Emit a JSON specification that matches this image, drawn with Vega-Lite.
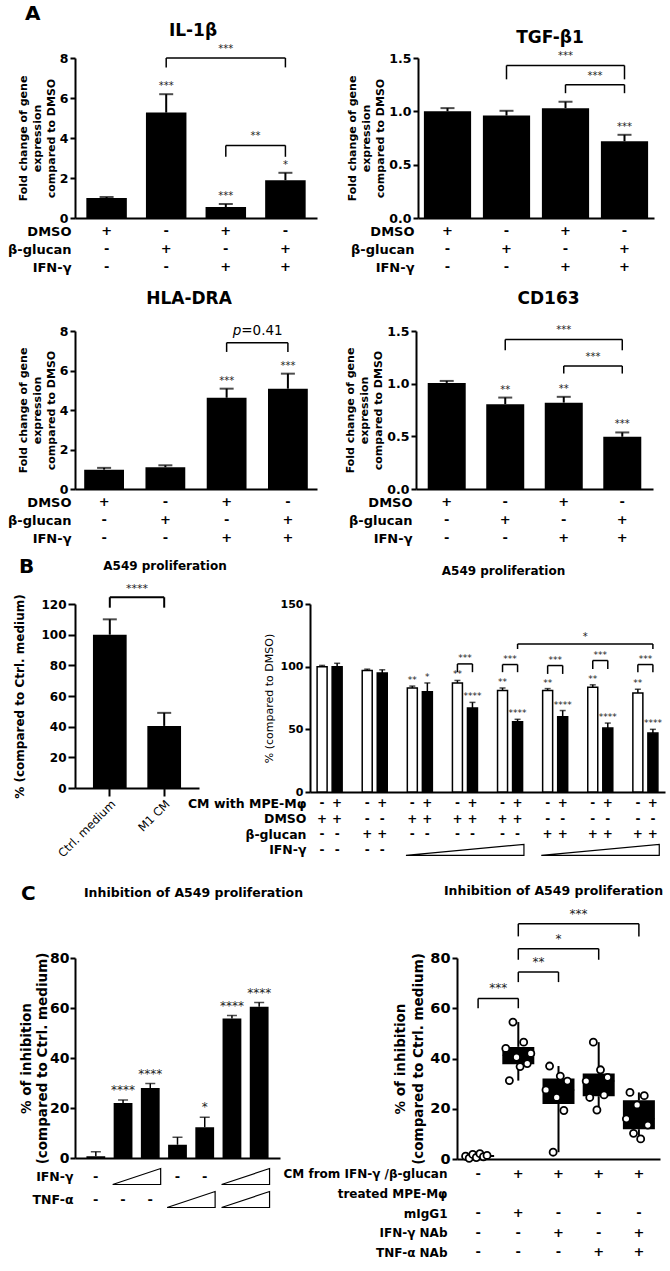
{
"$schema": "https://vega.github.io/schema/vega-lite/v6.json",
"padding": {"left": 7, "top": 4, "right": 2, "bottom": 2},
"background": "white",
"config": {
 "font": "DejaVu Sans",
 "view": {"stroke": null},
 "axis": {"labelFont": "DejaVu Sans", "titleFont": "DejaVu Sans", "labelFontWeight": "bold", "titleFontWeight": "bold", "labelColor": "black", "titleColor": "black", "domainColor": "black", "tickColor": "black", "domainWidth": 2, "tickWidth": 2, "grid": false, "labelOverlap": false},
 "axisY": {"labelOverlap": false},
 "axisQuantitative": {"labelOverlap": false},
 "title": {"font": "DejaVu Sans", "fontWeight": "bold", "color": "black", "anchor": "middle", "frame": "group"},
 "text": {"font": "DejaVu Sans"}
},
"datasets": {
 "il1b": [{"g":"1","mean":1.0,"err":1.05,"sig":""},{"g":"2","mean":5.27,"err":6.19,"sig":"***"},{"g":"3","mean":0.55,"err":0.70,"sig":"***"},{"g":"4","mean":1.89,"err":2.26,"sig":"*"}],
 "il1bBr": [{"a":"2","b":"4","m":"3","half":false,"top":8.0,"leg":7.53,"label":"***"},{"a":"3","b":"4","m":"3","half":true,"top":3.63,"leg":3.06,"label":"**"}],
 "tgf": [{"g":"1","mean":1.0,"err":1.03,"sig":""},{"g":"2","mean":0.96,"err":1.005,"sig":""},{"g":"3","mean":1.03,"err":1.09,"sig":""},{"g":"4","mean":0.72,"err":0.78,"sig":"***"}],
 "tgfBr": [{"a":"2","b":"4","m":"3","half":false,"top":1.43,"leg":1.30,"label":"***"},{"a":"3","b":"4","m":"3","half":true,"top":1.25,"leg":1.17,"label":"***"}],
 "hla": [{"g":"1","mean":0.98,"err":1.07,"sig":""},{"g":"2","mean":1.1,"err":1.2,"sig":""},{"g":"3","mean":4.62,"err":5.08,"sig":"***"},{"g":"4","mean":5.08,"err":5.84,"sig":"***"}],
 "hlaBr": [{"a":"3","b":"4","m":"3","top":7.41,"leg":6.94,"pre":"p","label":"=0.41"}],
 "cd163": [{"g":"1","mean":1.007,"err":1.026,"sig":""},{"g":"2","mean":0.805,"err":0.868,"sig":"**"},{"g":"3","mean":0.82,"err":0.875,"sig":"**"},{"g":"4","mean":0.496,"err":0.537,"sig":"***"}],
 "cd163Br": [{"a":"2","b":"4","m":"3","half":false,"top":1.42,"leg":1.317,"label":"***"},{"a":"3","b":"4","m":"3","half":true,"top":1.168,"leg":1.096,"label":"***"}],
 "tblA": [
  {"row":"DMSO","g":"1","v":"+"},{"row":"DMSO","g":"2","v":"-"},{"row":"DMSO","g":"3","v":"+"},{"row":"DMSO","g":"4","v":"-"},
  {"row":"β-glucan","g":"1","v":"-"},{"row":"β-glucan","g":"2","v":"+"},{"row":"β-glucan","g":"3","v":"-"},{"row":"β-glucan","g":"4","v":"+"},
  {"row":"IFN-γ","g":"1","v":"-"},{"row":"IFN-γ","g":"2","v":"-"},{"row":"IFN-γ","g":"3","v":"+"},{"row":"IFN-γ","g":"4","v":"+"}],
 "bL": [{"g":"Ctrl. medium","mean":100,"err":110},{"g":"M1 CM","mean":40.5,"err":49}],
 "bLBr": [{"a":"Ctrl. medium","b":"M1 CM","m":"Ctrl. medium","top":124.4,"leg":117.6,"label":"****"}],
 "bR": [
  {"bar":"1-","cm":"-","mean":100,"err":101,"sig":""},{"bar":"1+","cm":"+","mean":100,"err":102.7,"sig":""},
  {"bar":"2-","cm":"-","mean":97,"err":98,"sig":""},{"bar":"2+","cm":"+","mean":95,"err":97.5,"sig":""},
  {"bar":"3-","cm":"-","mean":83,"err":84.5,"sig":"**"},{"bar":"3+","cm":"+","mean":80,"err":87,"sig":"*"},
  {"bar":"4-","cm":"-","mean":87,"err":89,"sig":"**"},{"bar":"4+","cm":"+","mean":67,"err":71.5,"sig":"****"},
  {"bar":"5-","cm":"-","mean":81,"err":83,"sig":"**"},{"bar":"5+","cm":"+","mean":56,"err":58,"sig":"****"},
  {"bar":"6-","cm":"-","mean":81,"err":82.5,"sig":"**"},{"bar":"6+","cm":"+","mean":60,"err":65,"sig":"****"},
  {"bar":"7-","cm":"-","mean":83.5,"err":85.5,"sig":"**"},{"bar":"7+","cm":"+","mean":51,"err":55,"sig":"****"},
  {"bar":"8-","cm":"-","mean":79,"err":82,"sig":"**"},{"bar":"8+","cm":"+","mean":47,"err":50,"sig":"****"}],
 "bRpair": [{"a":"4-","b":"4+","top":102.2,"leg":95.6,"label":"***"},{"a":"5-","b":"5+","top":101.7,"leg":95.6,"label":"***"},{"a":"6-","b":"6+","top":100.9,"leg":94.2,"label":"***"},{"a":"7-","b":"7+","top":104.9,"leg":98.2,"label":"***"},{"a":"8-","b":"8+","top":101.7,"leg":95.6,"label":"***"}],
 "bRlong": [{"a":"5+","b":"8+","m":"s6","top":118.1,"leg":114.1,"label":"*"}],
 "tblB": [
  {"row":"CM with MPE-Mφ","bar":"1-","v":"-"},{"row":"CM with MPE-Mφ","bar":"1+","v":"+"},
  {"row":"CM with MPE-Mφ","bar":"2-","v":"-"},{"row":"CM with MPE-Mφ","bar":"2+","v":"+"},
  {"row":"CM with MPE-Mφ","bar":"3-","v":"-"},{"row":"CM with MPE-Mφ","bar":"3+","v":"+"},
  {"row":"CM with MPE-Mφ","bar":"4-","v":"-"},{"row":"CM with MPE-Mφ","bar":"4+","v":"+"},
  {"row":"CM with MPE-Mφ","bar":"5-","v":"-"},{"row":"CM with MPE-Mφ","bar":"5+","v":"+"},
  {"row":"CM with MPE-Mφ","bar":"6-","v":"-"},{"row":"CM with MPE-Mφ","bar":"6+","v":"+"},
  {"row":"CM with MPE-Mφ","bar":"7-","v":"-"},{"row":"CM with MPE-Mφ","bar":"7+","v":"+"},
  {"row":"CM with MPE-Mφ","bar":"8-","v":"-"},{"row":"CM with MPE-Mφ","bar":"8+","v":"+"},
  {"row":"DMSO","bar":"1-","v":"+"},{"row":"DMSO","bar":"1+","v":"+"},
  {"row":"DMSO","bar":"2-","v":"-"},{"row":"DMSO","bar":"2+","v":"-"},
  {"row":"DMSO","bar":"3-","v":"+"},{"row":"DMSO","bar":"3+","v":"+"},
  {"row":"DMSO","bar":"4-","v":"+"},{"row":"DMSO","bar":"4+","v":"+"},
  {"row":"DMSO","bar":"5-","v":"+"},{"row":"DMSO","bar":"5+","v":"+"},
  {"row":"DMSO","bar":"6-","v":"-"},{"row":"DMSO","bar":"6+","v":"-"},
  {"row":"DMSO","bar":"7-","v":"-"},{"row":"DMSO","bar":"7+","v":"-"},
  {"row":"DMSO","bar":"8-","v":"-"},{"row":"DMSO","bar":"8+","v":"-"},
  {"row":"β-glucan","bar":"1-","v":"-"},{"row":"β-glucan","bar":"1+","v":"-"},
  {"row":"β-glucan","bar":"2-","v":"+"},{"row":"β-glucan","bar":"2+","v":"+"},
  {"row":"β-glucan","bar":"3-","v":"-"},{"row":"β-glucan","bar":"3+","v":"-"},
  {"row":"β-glucan","bar":"4-","v":"-"},{"row":"β-glucan","bar":"4+","v":"-"},
  {"row":"β-glucan","bar":"5-","v":"-"},{"row":"β-glucan","bar":"5+","v":"-"},
  {"row":"β-glucan","bar":"6-","v":"+"},{"row":"β-glucan","bar":"6+","v":"+"},
  {"row":"β-glucan","bar":"7-","v":"+"},{"row":"β-glucan","bar":"7+","v":"+"},
  {"row":"β-glucan","bar":"8-","v":"+"},{"row":"β-glucan","bar":"8+","v":"+"},
  {"row":"IFN-γ","bar":"1-","v":"-"},{"row":"IFN-γ","bar":"1+","v":"-"},
  {"row":"IFN-γ","bar":"2-","v":"-"},{"row":"IFN-γ","bar":"2+","v":"-"}],
 "bTri": [{"m":"4-","row":"IFN-γ"},{"m":"7-","row":"IFN-γ"}],
 "cL": [{"g":"1","mean":0.7,"err":2.5,"sig":""},{"g":"2","mean":22,"err":23.2,"sig":"****"},{"g":"3","mean":28,"err":29.8,"sig":"****"},{"g":"4","mean":5.3,"err":8.3,"sig":""},{"g":"5","mean":12.3,"err":16.3,"sig":"*"},{"g":"6","mean":55.8,"err":57.0,"sig":"****"},{"g":"7","mean":60.5,"err":62.2,"sig":"****"}],
 "tblCL": [{"row":"IFN-γ","g":"1","v":"-"},{"row":"IFN-γ","g":"4","v":"-"},{"row":"IFN-γ","g":"5","v":"-"},{"row":"TNF-α","g":"1","v":"-"},{"row":"TNF-α","g":"2","v":"-"},{"row":"TNF-α","g":"3","v":"-"}],
 "cLTri": [{"g":"2","row":"IFN-γ"},{"g":"6","row":"IFN-γ"},{"g":"4","row":"TNF-α"},{"g":"6","row":"TNF-α"}],
 "cR": [
  {"box":"1","rep":"1","v":1.1},{"box":"1","rep":"2","v":0.3},{"box":"1","rep":"3","v":1.8},{"box":"1","rep":"4","v":0.6},{"box":"1","rep":"5","v":2.1},{"box":"1","rep":"6","v":0.9},{"box":"1","rep":"7","v":1.4},
  {"box":"2","rep":"1","v":44.0},{"box":"2","rep":"2","v":31.2},{"box":"2","rep":"3","v":54.5},{"box":"2","rep":"4","v":40.5},{"box":"2","rep":"5","v":36.8},{"box":"2","rep":"6","v":46.5},{"box":"2","rep":"7","v":38.0},{"box":"2","rep":"8","v":42.0},
  {"box":"3","rep":"1","v":27.5},{"box":"3","rep":"2","v":37.0},{"box":"3","rep":"3","v":2.7},{"box":"3","rep":"4","v":24.5},{"box":"3","rep":"5","v":33.0},{"box":"3","rep":"6","v":19.3},{"box":"3","rep":"7","v":31.0},
  {"box":"4","rep":"1","v":31.0},{"box":"4","rep":"2","v":24.5},{"box":"4","rep":"3","v":46.5},{"box":"4","rep":"4","v":19.5},{"box":"4","rep":"5","v":35.5},{"box":"4","rep":"6","v":25.5},{"box":"4","rep":"7","v":32.5},
  {"box":"5","rep":"1","v":16.0},{"box":"5","rep":"2","v":26.5},{"box":"5","rep":"3","v":10.2},{"box":"5","rep":"4","v":21.5},{"box":"5","rep":"5","v":8.0},{"box":"5","rep":"6","v":25.2},{"box":"5","rep":"7","v":13.5}],
 "cRBr": [{"a":"1","b":"2","m":"1","half":true,"top":63.9,"leg":60,"label":"***"},{"a":"2","b":"3","m":"2","half":true,"top":74.4,"leg":70.4,"label":"**"},{"a":"2","b":"4","m":"3","half":false,"top":83.7,"leg":79.3,"label":"*"},{"a":"2","b":"5","m":"3","half":true,"top":93.6,"leg":88.6,"label":"***"}],
 "tblCR": [
  {"row":"CM from IFN-γ /β-glucan","box":"1","v":"-"},{"row":"CM from IFN-γ /β-glucan","box":"2","v":"+"},{"row":"CM from IFN-γ /β-glucan","box":"3","v":"+"},{"row":"CM from IFN-γ /β-glucan","box":"4","v":"+"},{"row":"CM from IFN-γ /β-glucan","box":"5","v":"+"},
  {"row":"mIgG1","box":"1","v":"-"},{"row":"mIgG1","box":"2","v":"+"},{"row":"mIgG1","box":"3","v":"-"},{"row":"mIgG1","box":"4","v":"-"},{"row":"mIgG1","box":"5","v":"-"},
  {"row":"IFN-γ NAb","box":"1","v":"-"},{"row":"IFN-γ NAb","box":"2","v":"-"},{"row":"IFN-γ NAb","box":"3","v":"+"},{"row":"IFN-γ NAb","box":"4","v":"-"},{"row":"IFN-γ NAb","box":"5","v":"+"},
  {"row":"TNF-α NAb","box":"1","v":"-"},{"row":"TNF-α NAb","box":"2","v":"-"},{"row":"TNF-α NAb","box":"3","v":"-"},{"row":"TNF-α NAb","box":"4","v":"+"},{"row":"TNF-α NAb","box":"5","v":"+"}]
},
"vconcat": [
 {"vconcat": [
 {"vconcat": [
 {"title": {"text": "A", "anchor": "start", "fontSize": 20, "dx": -50, "dy": 2, "offset": 0},
  "hconcat": [
   {"vconcat": [
     {"title": {"text": "IL-1β", "fontSize": 17, "dx": -3, "offset": 4},
      "width": 242, "height": 160,
      "layer": [
       {"data": {"name": "il1b"}, "mark": {"type": "bar", "color": "black", "width": 40.5},
        "encoding": {"x": {"field": "g", "type": "nominal", "scale": {"type": "band", "paddingInner": 0.32, "paddingOuter": 0.19}, "axis": {"labels": false, "ticks": false, "title": null}},
         "y": {"field": "mean", "type": "quantitative", "scale": {"domain": [0, 8], "nice": false}, "axis": {"values": [0, 2, 4, 6, 8], "tickCount": 10, "labelOverlap": false, "format": "d", "title": ["Fold change of gene", "expression", "compared to DMSO"], "titleFontSize": 11, "titleLineHeight": 14, "titlePadding": 3, "labelFontSize": 12.5, "labelPadding": 2, "tickSize": 5}}}},
       {"data": {"name": "il1b"}, "mark": {"type": "rule", "color": "black", "strokeWidth": 2},
        "encoding": {"x": {"field": "g", "type": "nominal"}, "y": {"field": "mean", "type": "quantitative"}, "y2": {"field": "err"}}},
       {"data": {"name": "il1b"}, "mark": {"type": "tick", "color": "black", "thickness": 2, "size": 14, "orient": "horizontal"},
        "encoding": {"x": {"field": "g", "type": "nominal"}, "y": {"field": "err", "type": "quantitative"}}},
       {"data": {"name": "il1b"}, "mark": {"type": "text", "baseline": "bottom", "dy": -3, "fontSize": 10, "color": "#222"},
        "encoding": {"x": {"field": "g", "type": "nominal"}, "y": {"field": "err", "type": "quantitative"}, "text": {"field": "sig"}}},
       {"data": {"name": "il1bBr"}, "mark": {"type": "rule", "color": "black", "strokeWidth": 1.5},
        "encoding": {"x": {"field": "a", "type": "nominal", "bandPosition": 0.5}, "x2": {"field": "b", "bandPosition": 0.5}, "y": {"field": "top", "type": "quantitative"}}},
       {"data": {"name": "il1bBr"}, "mark": {"type": "rule", "color": "black", "strokeWidth": 1.5},
        "encoding": {"x": {"field": "a", "type": "nominal"}, "y": {"field": "top", "type": "quantitative"}, "y2": {"field": "leg"}}},
       {"data": {"name": "il1bBr"}, "mark": {"type": "rule", "color": "black", "strokeWidth": 1.5},
        "encoding": {"x": {"field": "b", "type": "nominal"}, "y": {"field": "top", "type": "quantitative"}, "y2": {"field": "leg"}}},
       {"data": {"name": "il1bBr"}, "transform": [{"filter": "!datum.half"}], "mark": {"type": "text", "baseline": "bottom", "dy": -4, "fontSize": 10, "color": "#222"},
        "encoding": {"x": {"field": "m", "type": "nominal"}, "y": {"field": "top", "type": "quantitative"}, "text": {"field": "label"}}},
       {"data": {"name": "il1bBr"}, "transform": [{"filter": "datum.half"}], "mark": {"type": "text", "baseline": "bottom", "dy": -4, "fontSize": 10, "color": "#222"},
        "encoding": {"x": {"field": "m", "type": "nominal", "bandPosition": 1.235}, "y": {"field": "top", "type": "quantitative"}, "text": {"field": "label"}}}
      ]},
     {"width": 242, "height": 36, "data": {"name": "tblA"}, "mark": {"type": "text", "fontSize": 13, "fontWeight": "bold", "color": "black"},
      "encoding": {"x": {"field": "g", "type": "nominal", "scale": {"type": "band", "paddingInner": 0.32, "paddingOuter": 0.19}, "axis": null},
       "y": {"field": "row", "type": "nominal", "scale": {"domain": ["DMSO", "β-glucan", "IFN-γ"], "padding": 0}, "axis": {"title": null, "domain": false, "ticks": false, "labelFontSize": 13, "labelPadding": 4}},
       "text": {"field": "v"}}}
    ], "spacing": 0, "resolve": {"scale": {"x": "shared"}, "axis": {"x": "independent"}}},
   {"vconcat": [
     {"title": {"text": "TGF-β1", "fontSize": 17, "dx": 14, "offset": 4},
      "width": 236, "height": 160,
      "layer": [
       {"data": {"name": "tgf"}, "mark": {"type": "bar", "color": "black", "width": 47.2},
        "encoding": {"x": {"field": "g", "type": "nominal", "scale": {"type": "band", "paddingInner": 0.2, "paddingOuter": 0.1}, "axis": {"labels": false, "ticks": false, "title": null}},
         "y": {"field": "mean", "type": "quantitative", "scale": {"domain": [0, 1.5], "nice": false}, "axis": {"values": [0, 0.5, 1, 1.5], "labelOverlap": false, "format": ".1f", "title": ["Fold change of gene", "expression", "compared to DMSO"], "titleFontSize": 11, "titleLineHeight": 14, "titlePadding": 3, "labelFontSize": 12.5, "labelPadding": 2, "tickSize": 5}}}},
       {"data": {"name": "tgf"}, "mark": {"type": "rule", "color": "black", "strokeWidth": 2},
        "encoding": {"x": {"field": "g", "type": "nominal"}, "y": {"field": "mean", "type": "quantitative"}, "y2": {"field": "err"}}},
       {"data": {"name": "tgf"}, "mark": {"type": "tick", "color": "black", "thickness": 2, "size": 14, "orient": "horizontal"},
        "encoding": {"x": {"field": "g", "type": "nominal"}, "y": {"field": "err", "type": "quantitative"}}},
       {"data": {"name": "tgf"}, "mark": {"type": "text", "baseline": "bottom", "dy": -3, "fontSize": 10, "color": "#222"},
        "encoding": {"x": {"field": "g", "type": "nominal"}, "y": {"field": "err", "type": "quantitative"}, "text": {"field": "sig"}}},
       {"data": {"name": "tgfBr"}, "mark": {"type": "rule", "color": "black", "strokeWidth": 1.5},
        "encoding": {"x": {"field": "a", "type": "nominal", "bandPosition": 0.5}, "x2": {"field": "b", "bandPosition": 0.5}, "y": {"field": "top", "type": "quantitative"}}},
       {"data": {"name": "tgfBr"}, "mark": {"type": "rule", "color": "black", "strokeWidth": 1.5},
        "encoding": {"x": {"field": "a", "type": "nominal"}, "y": {"field": "top", "type": "quantitative"}, "y2": {"field": "leg"}}},
       {"data": {"name": "tgfBr"}, "mark": {"type": "rule", "color": "black", "strokeWidth": 1.5},
        "encoding": {"x": {"field": "b", "type": "nominal"}, "y": {"field": "top", "type": "quantitative"}, "y2": {"field": "leg"}}},
       {"data": {"name": "tgfBr"}, "transform": [{"filter": "!datum.half"}], "mark": {"type": "text", "baseline": "bottom", "dy": -4, "fontSize": 10, "color": "#222"},
        "encoding": {"x": {"field": "m", "type": "nominal"}, "y": {"field": "top", "type": "quantitative"}, "text": {"field": "label"}}},
       {"data": {"name": "tgfBr"}, "transform": [{"filter": "datum.half"}], "mark": {"type": "text", "baseline": "bottom", "dy": -4, "fontSize": 10, "color": "#222"},
        "encoding": {"x": {"field": "m", "type": "nominal", "bandPosition": 1.125}, "y": {"field": "top", "type": "quantitative"}, "text": {"field": "label"}}}
      ]},
     {"width": 236, "height": 36, "data": {"name": "tblA"}, "mark": {"type": "text", "fontSize": 13, "fontWeight": "bold", "color": "black"},
      "encoding": {"x": {"field": "g", "type": "nominal", "scale": {"type": "band", "paddingInner": 0.2, "paddingOuter": 0.1}, "axis": null},
       "y": {"field": "row", "type": "nominal", "scale": {"domain": ["DMSO", "β-glucan", "IFN-γ"], "padding": 0}, "axis": {"title": null, "domain": false, "ticks": false, "labelFontSize": 13, "labelPadding": 4}},
       "text": {"field": "v"}}}
    ], "spacing": 0, "resolve": {"scale": {"x": "shared"}, "axis": {"x": "independent"}}}
  ], "spacing": 29},
 {"hconcat": [
   {"vconcat": [
     {"title": {"text": "HLA-DRA", "fontSize": 17, "dx": -7, "offset": 16},
      "width": 242, "height": 158,
      "layer": [
       {"data": {"name": "hla"}, "mark": {"type": "bar", "color": "black", "width": 39.8},
        "encoding": {"x": {"field": "g", "type": "nominal", "scale": {"type": "band", "paddingInner": 0.35, "paddingOuter": 0.15}, "axis": {"labels": false, "ticks": false, "title": null}},
         "y": {"field": "mean", "type": "quantitative", "scale": {"domain": [0, 8], "nice": false}, "axis": {"values": [0, 2, 4, 6, 8], "tickCount": 10, "labelOverlap": false, "format": "d", "title": ["Fold change of gene", "expression", "compared to DMSO"], "titleFontSize": 11, "titleLineHeight": 14, "titlePadding": 3, "labelFontSize": 12.5, "labelPadding": 2, "tickSize": 5}}}},
       {"data": {"name": "hla"}, "mark": {"type": "rule", "color": "black", "strokeWidth": 2},
        "encoding": {"x": {"field": "g", "type": "nominal"}, "y": {"field": "mean", "type": "quantitative"}, "y2": {"field": "err"}}},
       {"data": {"name": "hla"}, "mark": {"type": "tick", "color": "black", "thickness": 2, "size": 14, "orient": "horizontal"},
        "encoding": {"x": {"field": "g", "type": "nominal"}, "y": {"field": "err", "type": "quantitative"}}},
       {"data": {"name": "hla"}, "mark": {"type": "text", "baseline": "bottom", "dy": -3, "fontSize": 10, "color": "#222"},
        "encoding": {"x": {"field": "g", "type": "nominal"}, "y": {"field": "err", "type": "quantitative"}, "text": {"field": "sig"}}},
       {"data": {"name": "hlaBr"}, "mark": {"type": "rule", "color": "black", "strokeWidth": 1.5},
        "encoding": {"x": {"field": "a", "type": "nominal", "bandPosition": 0.5}, "x2": {"field": "b", "bandPosition": 0.5}, "y": {"field": "top", "type": "quantitative"}}},
       {"data": {"name": "hlaBr"}, "mark": {"type": "rule", "color": "black", "strokeWidth": 1.5},
        "encoding": {"x": {"field": "a", "type": "nominal"}, "y": {"field": "top", "type": "quantitative"}, "y2": {"field": "leg"}}},
       {"data": {"name": "hlaBr"}, "mark": {"type": "rule", "color": "black", "strokeWidth": 1.5},
        "encoding": {"x": {"field": "b", "type": "nominal"}, "y": {"field": "top", "type": "quantitative"}, "y2": {"field": "leg"}}},
       {"data": {"name": "hlaBr"}, "mark": {"type": "text", "baseline": "bottom", "dy": -5, "dx": -16, "align": "right", "fontSize": 13.5, "fontStyle": "italic", "color": "black"},
        "encoding": {"x": {"field": "m", "type": "nominal", "bandPosition": 1.269}, "y": {"field": "top", "type": "quantitative"}, "text": {"field": "pre"}}},
       {"data": {"name": "hlaBr"}, "mark": {"type": "text", "baseline": "bottom", "dy": -5, "dx": -16, "align": "left", "fontSize": 13.5, "color": "black"},
        "encoding": {"x": {"field": "m", "type": "nominal", "bandPosition": 1.269}, "y": {"field": "top", "type": "quantitative"}, "text": {"field": "label"}}}
      ]},
     {"width": 242, "height": 36, "data": {"name": "tblA"}, "mark": {"type": "text", "fontSize": 13, "fontWeight": "bold", "color": "black"},
      "encoding": {"x": {"field": "g", "type": "nominal", "scale": {"type": "band", "paddingInner": 0.35, "paddingOuter": 0.15}, "axis": null},
       "y": {"field": "row", "type": "nominal", "scale": {"domain": ["DMSO", "β-glucan", "IFN-γ"], "padding": 0}, "axis": {"title": null, "domain": false, "ticks": false, "labelFontSize": 13, "labelPadding": 4}},
       "text": {"field": "v"}}}
    ], "spacing": 0, "resolve": {"scale": {"x": "shared"}, "axis": {"x": "independent"}}},
   {"vconcat": [
     {"title": {"text": "CD163", "fontSize": 17, "dx": 14, "offset": 17},
      "width": 237, "height": 158,
      "layer": [
       {"data": {"name": "cd163"}, "mark": {"type": "bar", "color": "black", "width": 38},
        "encoding": {"x": {"field": "g", "type": "nominal", "scale": {"type": "band", "paddingInner": 0.35, "paddingOuter": 0.2}, "axis": {"labels": false, "ticks": false, "title": null}},
         "y": {"field": "mean", "type": "quantitative", "scale": {"domain": [0, 1.5], "nice": false}, "axis": {"values": [0, 0.5, 1, 1.5], "labelOverlap": false, "format": ".1f", "title": ["Fold change of gene", "expression", "compared to DMSO"], "titleFontSize": 11, "titleLineHeight": 14, "titlePadding": 3, "labelFontSize": 12.5, "labelPadding": 2, "tickSize": 5}}}},
       {"data": {"name": "cd163"}, "mark": {"type": "rule", "color": "black", "strokeWidth": 2},
        "encoding": {"x": {"field": "g", "type": "nominal"}, "y": {"field": "mean", "type": "quantitative"}, "y2": {"field": "err"}}},
       {"data": {"name": "cd163"}, "mark": {"type": "tick", "color": "black", "thickness": 2, "size": 14, "orient": "horizontal"},
        "encoding": {"x": {"field": "g", "type": "nominal"}, "y": {"field": "err", "type": "quantitative"}}},
       {"data": {"name": "cd163"}, "mark": {"type": "text", "baseline": "bottom", "dy": -3, "fontSize": 10, "color": "#222"},
        "encoding": {"x": {"field": "g", "type": "nominal"}, "y": {"field": "err", "type": "quantitative"}, "text": {"field": "sig"}}},
       {"data": {"name": "cd163Br"}, "mark": {"type": "rule", "color": "black", "strokeWidth": 1.5},
        "encoding": {"x": {"field": "a", "type": "nominal", "bandPosition": 0.5}, "x2": {"field": "b", "bandPosition": 0.5}, "y": {"field": "top", "type": "quantitative"}}},
       {"data": {"name": "cd163Br"}, "mark": {"type": "rule", "color": "black", "strokeWidth": 1.5},
        "encoding": {"x": {"field": "a", "type": "nominal"}, "y": {"field": "top", "type": "quantitative"}, "y2": {"field": "leg"}}},
       {"data": {"name": "cd163Br"}, "mark": {"type": "rule", "color": "black", "strokeWidth": 1.5},
        "encoding": {"x": {"field": "b", "type": "nominal"}, "y": {"field": "top", "type": "quantitative"}, "y2": {"field": "leg"}}},
       {"data": {"name": "cd163Br"}, "transform": [{"filter": "!datum.half"}], "mark": {"type": "text", "baseline": "bottom", "dy": -4, "fontSize": 10, "color": "#222"},
        "encoding": {"x": {"field": "m", "type": "nominal"}, "y": {"field": "top", "type": "quantitative"}, "text": {"field": "label"}}},
       {"data": {"name": "cd163Br"}, "transform": [{"filter": "datum.half"}], "mark": {"type": "text", "baseline": "bottom", "dy": -4, "fontSize": 10, "color": "#222"},
        "encoding": {"x": {"field": "m", "type": "nominal", "bandPosition": 1.269}, "y": {"field": "top", "type": "quantitative"}, "text": {"field": "label"}}}
      ]},
     {"width": 237, "height": 36, "data": {"name": "tblA"}, "mark": {"type": "text", "fontSize": 13, "fontWeight": "bold", "color": "black"},
      "encoding": {"x": {"field": "g", "type": "nominal", "scale": {"type": "band", "paddingInner": 0.35, "paddingOuter": 0.2}, "axis": null},
       "y": {"field": "row", "type": "nominal", "scale": {"domain": ["DMSO", "β-glucan", "IFN-γ"], "padding": 0}, "axis": {"title": null, "domain": false, "ticks": false, "labelFontSize": 13, "labelPadding": 4}},
       "text": {"field": "v"}}}
    ], "spacing": 0, "resolve": {"scale": {"x": "shared"}, "axis": {"x": "independent"}}}
  ], "spacing": 27}
 ], "spacing": 15},
 {"title": {"text": "B", "anchor": "start", "fontSize": 20, "dx": -56, "dy": 21},
  "bounds": "flush",
  "hconcat": [
   {"title": {"text": "A549 proliferation", "fontSize": 12, "dx": 28, "offset": 10},
    "width": 124, "height": 184,
    "layer": [
     {"data": {"name": "bL"}, "mark": {"type": "bar", "color": "black", "width": 33.7},
      "encoding": {"x": {"field": "g", "type": "nominal", "scale": {"type": "band", "paddingInner": 0.38, "paddingOuter": 0.33}, "axis": {"title": null, "labelAngle": -45, "labelFontSize": 11.5, "labelFontWeight": "normal", "tickSize": 8, "labelPadding": 2}},
       "y": {"field": "mean", "type": "quantitative", "scale": {"domain": [0, 120], "nice": false}, "axis": {"values": [0, 20, 40, 60, 80, 100, 120], "tickCount": 10, "labelOverlap": false, "format": "d", "title": "% (compared to Ctrl. medium)", "titleFontSize": 12, "titlePadding": 14, "labelFontSize": 12, "labelPadding": 2, "tickSize": 7}}}},
     {"data": {"name": "bL"}, "mark": {"type": "rule", "color": "black", "strokeWidth": 2},
      "encoding": {"x": {"field": "g", "type": "nominal"}, "y": {"field": "mean", "type": "quantitative"}, "y2": {"field": "err"}}},
     {"data": {"name": "bL"}, "mark": {"type": "tick", "color": "black", "thickness": 2, "size": 14, "orient": "horizontal"},
      "encoding": {"x": {"field": "g", "type": "nominal"}, "y": {"field": "err", "type": "quantitative"}}},
     {"data": {"name": "bLBr"}, "mark": {"type": "rule", "color": "black", "strokeWidth": 2},
      "encoding": {"x": {"field": "a", "type": "nominal", "bandPosition": 0.5}, "x2": {"field": "b", "bandPosition": 0.5}, "y": {"field": "top", "type": "quantitative"}}},
     {"data": {"name": "bLBr"}, "mark": {"type": "rule", "color": "black", "strokeWidth": 2},
      "encoding": {"x": {"field": "a", "type": "nominal"}, "y": {"field": "top", "type": "quantitative"}, "y2": {"field": "leg"}}},
     {"data": {"name": "bLBr"}, "mark": {"type": "rule", "color": "black", "strokeWidth": 2},
      "encoding": {"x": {"field": "b", "type": "nominal"}, "y": {"field": "top", "type": "quantitative"}, "y2": {"field": "leg"}}},
     {"data": {"name": "bLBr"}, "mark": {"type": "text", "baseline": "bottom", "dy": -3, "fontSize": 11, "color": "#222"},
      "encoding": {"x": {"field": "m", "type": "nominal", "bandPosition": 1.306}, "y": {"field": "top", "type": "quantitative"}, "text": {"field": "label"}}}
    ]},
   {"vconcat": [
     {"title": {"text": "A549 proliferation", "fontSize": 12, "dx": 16, "offset": 20},
      "width": 355, "height": 188,
      "layer": [
       {"data": {"name": "bR"}, "mark": {"type": "bar", "stroke": "black", "strokeWidth": 1.5, "width": 10},
        "encoding": {"x": {"field": "bar", "type": "nominal", "scale": {"type": "band", "domain": ["1-","1+","s1","2-","2+","s2","3-","3+","s3","4-","4+","s4","5-","5+","s5","6-","6+","s6","7-","7+","s7","8-","8+"], "paddingInner": 0.33, "paddingOuter": 0.47}, "axis": {"labels": false, "ticks": false, "title": null}},
         "y": {"field": "mean", "type": "quantitative", "scale": {"domain": [0, 150], "nice": false}, "axis": {"values": [0, 50, 100, 150], "labelOverlap": false, "format": "d", "title": "% (compared to DMSO)", "titleFontSize": 11, "titleFontWeight": "normal", "titlePadding": 6, "labelFontSize": 11, "labelPadding": 2, "tickSize": 5}},
         "fill": {"field": "cm", "type": "nominal", "scale": {"domain": ["-", "+"], "range": ["white", "black"]}, "legend": null}}},
       {"data": {"name": "bR"}, "mark": {"type": "rule", "color": "black", "strokeWidth": 1.5},
        "encoding": {"x": {"field": "bar", "type": "nominal"}, "y": {"field": "mean", "type": "quantitative"}, "y2": {"field": "err"}}},
       {"data": {"name": "bR"}, "mark": {"type": "tick", "color": "black", "thickness": 1.5, "size": 6, "orient": "horizontal"},
        "encoding": {"x": {"field": "bar", "type": "nominal"}, "y": {"field": "err", "type": "quantitative"}}},
       {"data": {"name": "bR"}, "mark": {"type": "text", "baseline": "bottom", "dy": -1, "fontSize": 9, "color": "#222"},
        "encoding": {"x": {"field": "bar", "type": "nominal"}, "y": {"field": "err", "type": "quantitative"}, "text": {"field": "sig"}}},
       {"data": {"name": "bRpair"}, "mark": {"type": "rule", "color": "black", "strokeWidth": 1.5},
        "encoding": {"x": {"field": "a", "type": "nominal", "bandPosition": 0.5}, "x2": {"field": "b", "bandPosition": 0.5}, "y": {"field": "top", "type": "quantitative"}}},
       {"data": {"name": "bRpair"}, "mark": {"type": "rule", "color": "black", "strokeWidth": 1.5},
        "encoding": {"x": {"field": "a", "type": "nominal"}, "y": {"field": "top", "type": "quantitative"}, "y2": {"field": "leg"}}},
       {"data": {"name": "bRpair"}, "mark": {"type": "rule", "color": "black", "strokeWidth": 1.5},
        "encoding": {"x": {"field": "b", "type": "nominal"}, "y": {"field": "top", "type": "quantitative"}, "y2": {"field": "leg"}}},
       {"data": {"name": "bRpair"}, "mark": {"type": "text", "baseline": "bottom", "dy": -1, "fontSize": 9, "color": "#222"},
        "encoding": {"x": {"field": "a", "type": "nominal", "bandPosition": 1.246}, "y": {"field": "top", "type": "quantitative"}, "text": {"field": "label"}}},
       {"data": {"name": "bRlong"}, "mark": {"type": "rule", "color": "black", "strokeWidth": 1.5},
        "encoding": {"x": {"field": "a", "type": "nominal", "bandPosition": 0.5}, "x2": {"field": "b", "bandPosition": 0.5}, "y": {"field": "top", "type": "quantitative"}}},
       {"data": {"name": "bRlong"}, "mark": {"type": "rule", "color": "black", "strokeWidth": 1.5},
        "encoding": {"x": {"field": "a", "type": "nominal"}, "y": {"field": "top", "type": "quantitative"}, "y2": {"field": "leg"}}},
       {"data": {"name": "bRlong"}, "mark": {"type": "rule", "color": "black", "strokeWidth": 1.5},
        "encoding": {"x": {"field": "b", "type": "nominal"}, "y": {"field": "top", "type": "quantitative"}, "y2": {"field": "leg"}}},
       {"data": {"name": "bRlong"}, "mark": {"type": "text", "baseline": "bottom", "dy": -2, "fontSize": 10, "color": "#222"},
        "encoding": {"x": {"field": "m", "type": "nominal", "bandPosition": 1.246}, "y": {"field": "top", "type": "quantitative"}, "text": {"field": "label"}}}
      ]},
     {"width": 355, "height": 53,
      "layer": [
       {"data": {"name": "tblB"}, "mark": {"type": "text", "fontSize": 12, "fontWeight": "bold", "color": "black"},
        "encoding": {"x": {"field": "bar", "type": "nominal", "scale": {"type": "band", "domain": ["1-","1+","s1","2-","2+","s2","3-","3+","s3","4-","4+","s4","5-","5+","s5","6-","6+","s6","7-","7+","s7","8-","8+"], "paddingInner": 0.33, "paddingOuter": 0.47}, "axis": null},
         "y": {"field": "row", "type": "nominal", "scale": {"domain": ["CM with MPE-Mφ", "DMSO", "β-glucan", "IFN-γ"], "padding": 0.2}, "axis": {"title": null, "domain": false, "ticks": false, "labelFontSize": 12.5, "labelPadding": 4}},
         "text": {"field": "v"}}},
       {"data": {"name": "bTri"}, "mark": {"type": "point", "shape": "M-1,0.093L1,0.093L1,-0.093Z", "size": 13924, "filled": false, "stroke": "black", "strokeWidth": 1.2, "opacity": 1},
        "encoding": {"x": {"field": "m", "type": "nominal", "bandPosition": 1.246}, "y": {"field": "row", "type": "nominal"}}}
      ]}
    ], "spacing": 0, "resolve": {"scale": {"x": "shared"}, "axis": {"x": "independent"}}}
  ], "spacing": 111}
 ], "spacing": 12},
 {"title": {"text": "C", "anchor": "start", "fontSize": 20, "dx": -54, "dy": 23},
  "bounds": "flush",
  "hconcat": [
   {"vconcat": [
     {"title": {"text": "Inhibition of A549 proliferation", "fontSize": 12.5, "dx": 16, "offset": 52},
      "width": 205, "height": 200,
      "layer": [
       {"data": {"name": "cL"}, "mark": {"type": "bar", "color": "black", "width": 18.8},
        "encoding": {"x": {"field": "g", "type": "nominal", "scale": {"type": "band", "paddingInner": 0.31, "paddingOuter": 0.42}, "axis": {"labels": false, "ticks": false, "title": null}},
         "y": {"field": "mean", "type": "quantitative", "scale": {"domain": [0, 80], "nice": false}, "axis": {"values": [0, 20, 40, 60, 80], "labelOverlap": false, "format": "d", "title": ["% of inhibition", "(compared to Ctrl. medium)"], "titleFontSize": 13.5, "titleLineHeight": 16, "titlePadding": 0, "labelFontSize": 14, "labelPadding": 1, "tickSize": 5}}}},
       {"data": {"name": "cL"}, "mark": {"type": "rule", "color": "black", "strokeWidth": 1.5},
        "encoding": {"x": {"field": "g", "type": "nominal"}, "y": {"field": "mean", "type": "quantitative"}, "y2": {"field": "err"}}},
       {"data": {"name": "cL"}, "mark": {"type": "tick", "color": "black", "thickness": 1.5, "size": 10, "orient": "horizontal"},
        "encoding": {"x": {"field": "g", "type": "nominal"}, "y": {"field": "err", "type": "quantitative"}}},
       {"data": {"name": "cL"}, "mark": {"type": "text", "baseline": "bottom", "dy": -3, "fontSize": 12, "color": "#222"},
        "encoding": {"x": {"field": "g", "type": "nominal"}, "y": {"field": "err", "type": "quantitative"}, "text": {"field": "sig"}}}
      ]},
     {"width": 205, "height": 46,
      "layer": [
       {"data": {"name": "tblCL"}, "mark": {"type": "text", "fontSize": 13, "fontWeight": "bold", "color": "black"},
        "encoding": {"x": {"field": "g", "type": "nominal", "scale": {"type": "band", "paddingInner": 0.31, "paddingOuter": 0.42}, "axis": null},
         "y": {"field": "row", "type": "nominal", "scale": {"domain": ["IFN-γ", "TNF-α"]}, "axis": {"title": null, "domain": false, "ticks": false, "labelFontSize": 12.5, "labelPadding": 2}},
         "text": {"field": "v"}}},
       {"data": {"name": "cLTri"}, "mark": {"type": "point", "shape": "M-1,0.333L1,0.333L1,-0.333Z", "size": 2304, "filled": false, "stroke": "black", "strokeWidth": 1.2, "opacity": 1},
        "encoding": {"x": {"field": "g", "type": "nominal", "bandPosition": 1.225}, "y": {"field": "row", "type": "nominal"}}}
      ]}
    ], "spacing": 0, "resolve": {"scale": {"x": "shared"}, "axis": {"x": "independent"}}},
   {"vconcat": [
     {"title": {"text": "Inhibition of A549 proliferation", "fontSize": 12.5, "dx": -5, "offset": 10},
      "width": 203, "height": 201,
      "layer": [
       {"data": {"name": "cR"}, "mark": {"type": "boxplot", "extent": "min-max", "size": 32, "color": "black", "median": {"color": "black"}, "rule": {"color": "black", "strokeWidth": 2}},
        "encoding": {"x": {"field": "box", "type": "nominal", "scale": {"type": "band", "paddingInner": 0.2, "paddingOuter": 0.125}, "axis": {"labels": false, "ticks": false, "title": null}},
         "y": {"field": "v", "type": "quantitative", "scale": {"domain": [0, 80], "nice": false}, "axis": {"values": [0, 20, 40, 60, 80], "labelOverlap": false, "format": "d", "title": ["% of inhibition", "(compared to Ctrl. medium)"], "titleFontSize": 13.5, "titleLineHeight": 18, "titlePadding": 4, "labelFontSize": 14.5, "labelPadding": 2, "tickSize": 5}}}},
       {"data": {"name": "cR"}, "mark": {"type": "point", "shape": "circle", "filled": true, "fill": "white", "stroke": "black", "strokeWidth": 1.8, "size": 50, "opacity": 1},
        "encoding": {"x": {"field": "box", "type": "nominal"}, "xOffset": {"field": "rep", "type": "nominal", "scale": {"paddingOuter": 2}}, "y": {"field": "v", "type": "quantitative"}}},
       {"data": {"name": "cRBr"}, "mark": {"type": "rule", "color": "black", "strokeWidth": 1.5},
        "encoding": {"x": {"field": "a", "type": "nominal", "bandPosition": 0.5}, "x2": {"field": "b", "bandPosition": 0.5}, "y": {"field": "top", "type": "quantitative"}}},
       {"data": {"name": "cRBr"}, "mark": {"type": "rule", "color": "black", "strokeWidth": 1.5},
        "encoding": {"x": {"field": "a", "type": "nominal"}, "y": {"field": "top", "type": "quantitative"}, "y2": {"field": "leg"}}},
       {"data": {"name": "cRBr"}, "mark": {"type": "rule", "color": "black", "strokeWidth": 1.5},
        "encoding": {"x": {"field": "b", "type": "nominal"}, "y": {"field": "top", "type": "quantitative"}, "y2": {"field": "leg"}}},
       {"data": {"name": "cRBr"}, "transform": [{"filter": "!datum.half"}], "mark": {"type": "text", "baseline": "bottom", "dy": -3, "fontSize": 12, "color": "#222"},
        "encoding": {"x": {"field": "m", "type": "nominal"}, "y": {"field": "top", "type": "quantitative"}, "text": {"field": "label"}}},
       {"data": {"name": "cRBr"}, "transform": [{"filter": "datum.half"}], "mark": {"type": "text", "baseline": "bottom", "dy": -3, "fontSize": 12, "color": "#222"},
        "encoding": {"x": {"field": "m", "type": "nominal", "bandPosition": 1.125}, "y": {"field": "top", "type": "quantitative"}, "text": {"field": "label"}}}
      ]},
     {"width": 203, "height": 94, "data": {"name": "tblCR"}, "mark": {"type": "text", "fontSize": 13, "fontWeight": "bold", "color": "black"},
      "encoding": {"x": {"field": "box", "type": "nominal", "scale": {"type": "band", "paddingInner": 0.2, "paddingOuter": 0.125}, "axis": null},
       "y": {"field": "row", "type": "nominal", "scale": {"domain": ["CM from IFN-γ /β-glucan", "treated MPE-Mφ", "mIgG1", "IFN-γ NAb", "TNF-α NAb"], "padding": 0.4}, "axis": {"title": null, "domain": false, "ticks": false, "labelFontSize": 12, "labelPadding": 10}},
       "text": {"field": "v"}}}
    ], "spacing": 0, "resolve": {"scale": {"x": "shared"}, "axis": {"x": "independent"}}}
  ], "spacing": 382}
],
"spacing": 24
}
